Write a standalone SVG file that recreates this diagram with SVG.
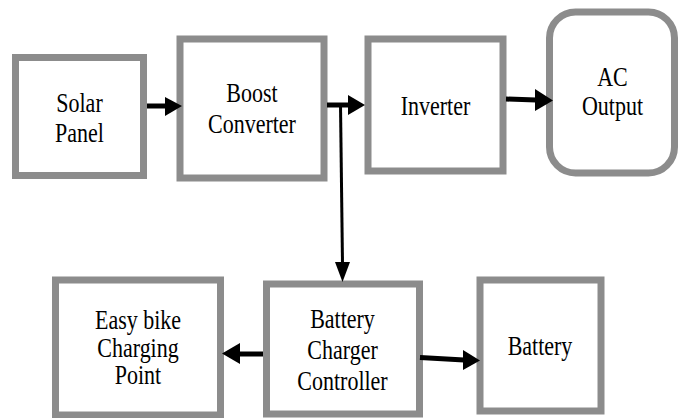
<svg xmlns="http://www.w3.org/2000/svg" width="681" height="418" viewBox="0 0 681 418">
<style>
.box{fill:#fff;stroke:#8c8c8c;stroke-width:7}
.lbl{font-family:"Liberation Serif","Times New Roman",serif;font-size:22px;fill:#000;text-anchor:middle}
.ln{stroke:#000;fill:none}
.ah{fill:#000}
</style>
<rect width="681" height="418" fill="#fff"/>
<g id="solar-panel">
<rect class="box" x="15.5" y="57.5" width="128" height="118"/>
<text class="lbl" transform="translate(79.5,112) scale(1,1.22)">Solar</text>
<text class="lbl" transform="translate(79.5,142) scale(1,1.22)">Panel</text>
</g>
<g id="boost-converter">
<rect class="box" x="180" y="39" width="144" height="139"/>
<text class="lbl" transform="translate(252,102) scale(1,1.22)">Boost</text>
<text class="lbl" transform="translate(252,133) scale(1,1.22)">Converter</text>
</g>
<g id="inverter">
<rect class="box" x="368" y="39" width="135" height="132"/>
<text class="lbl" transform="translate(435.5,115) scale(1,1.22)">Inverter</text>
</g>
<g id="ac-output">
<rect class="box" x="549.5" y="12" width="125" height="161" rx="26" ry="26"/>
<text class="lbl" transform="translate(612.5,86) scale(1,1.22)">AC</text>
<text class="lbl" transform="translate(612.5,115) scale(1,1.22)">Output</text>
</g>
<g id="easy-bike-charging-point">
<rect class="box" x="55.5" y="280" width="165" height="135"/>
<text class="lbl" transform="translate(138,329) scale(1,1.22)">Easy bike</text>
<text class="lbl" transform="translate(138,356.5) scale(1,1.22)">Charging</text>
<text class="lbl" transform="translate(138,384) scale(1,1.22)">Point</text>
</g>
<g id="battery-charger-controller">
<rect class="box" x="266.5" y="284" width="153" height="130"/>
<text class="lbl" transform="translate(342.5,328) scale(1,1.22)">Battery</text>
<text class="lbl" transform="translate(342.5,358.5) scale(1,1.22)">Charger</text>
<text class="lbl" transform="translate(342.5,390) scale(1,1.22)">Controller</text>
</g>
<g id="battery">
<rect class="box" x="480" y="280" width="121" height="131"/>
<text class="lbl" transform="translate(540,355) scale(1,1.22)">Battery</text>
</g>
<g id="connectors">
<line class="ln" x1="147" y1="106" x2="166" y2="106" stroke-width="5"/>
<polygon class="ah" points="165,97 182,106 165,116"/>
<line class="ln" x1="327" y1="105" x2="349" y2="105" stroke-width="5"/>
<polygon class="ah" points="348,95 365,105 348,115"/>
<line class="ln" x1="340.5" y1="105" x2="342.5" y2="264" stroke-width="3"/>
<polygon class="ah" points="335,262 350,262 342.5,282"/>
<line class="ln" x1="506" y1="99" x2="536" y2="100" stroke-width="5"/>
<polygon class="ah" points="535,89 553,100.5 535,111"/>
<line class="ln" x1="263" y1="354" x2="239" y2="354" stroke-width="5"/>
<polygon class="ah" points="240,343 222,353.5 240,364"/>
<line class="ln" x1="420" y1="357.5" x2="464" y2="360" stroke-width="5"/>
<polygon class="ah" points="463,350 480,360.5 463,370"/>
</g>
</svg>
